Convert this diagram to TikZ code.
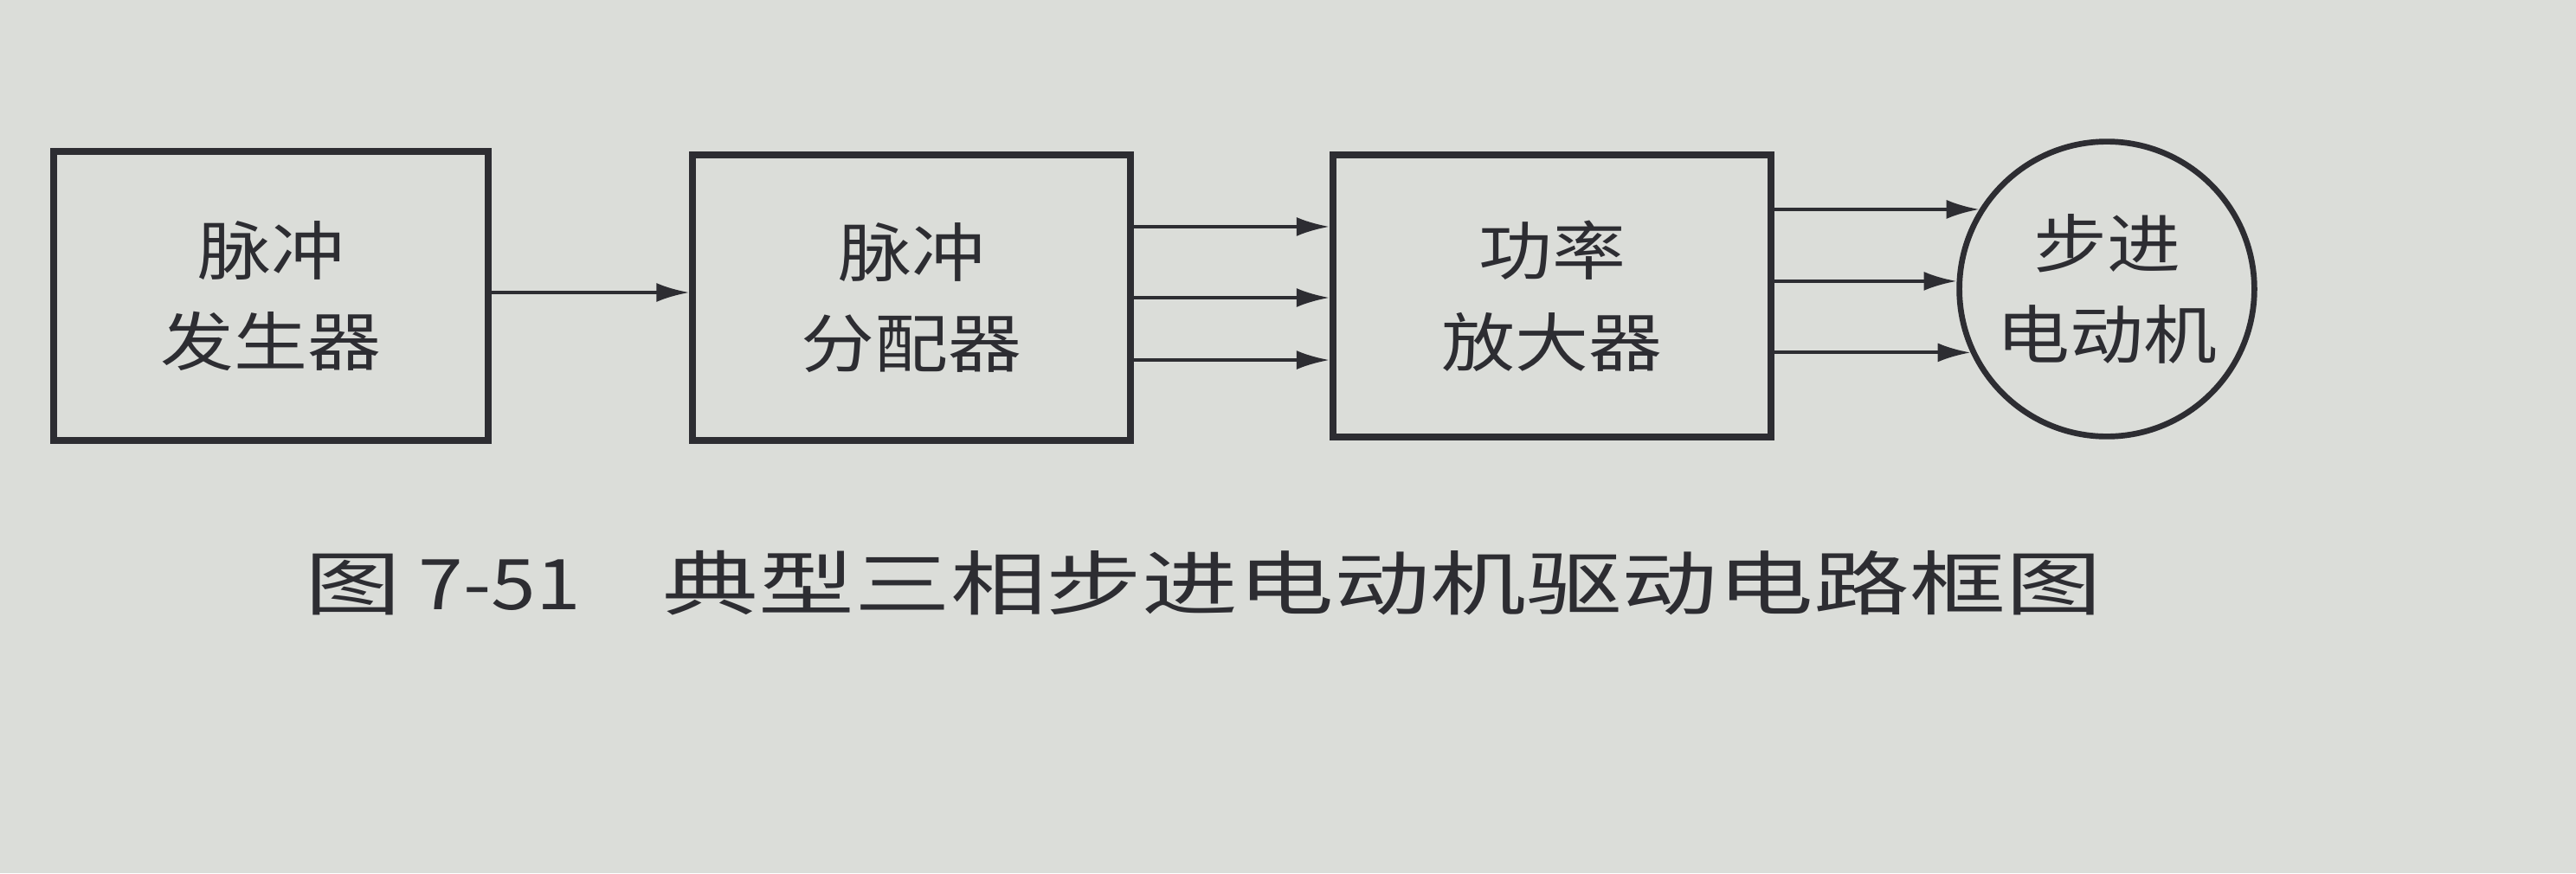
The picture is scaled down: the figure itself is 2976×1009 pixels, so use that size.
\documentclass[tikz,border=0pt]{standalone}
\usepackage{fontspec}
\usepackage{tikz}
\usetikzlibrary{arrows.meta}
\newfontfamily\cjk[FakeStretch=1.15]{Noto Sans CJK SC}
\newfontfamily\cjkcap[FakeStretch=1.37]{Noto Sans CJK SC}
\definecolor{paper}{RGB}{219,221,217}
\definecolor{ink}{RGB}{45,45,50}
\tikzset{
    blockbox/.style={draw=ink, line width=2.3pt, minimum width=#1, align=center, text=ink,
        font=\cjk\fontsize{21}{30}\selectfont},
    motorbox/.style={draw=ink, line width=1.9pt, circle, minimum size=3.26cm, align=center, text=ink,
        font=\cjk\fontsize{21}{30}\selectfont},
    arr/.style={draw=ink, line width=1.1pt, -{Latex[length=3.8mm,width=2.2mm]}}
}
\begin{document}
\begin{tikzpicture}[x=0.01cm, y=-0.01cm]
        \fill[paper] (0,0) rectangle (2976,1009);
        \useasboundingbox (0,0) rectangle (2976,1009);
        %blocks
        \node[blockbox=5.01cm, minimum height=3.34cm] (gen) at (313,342) {脉冲\\发生器};
        \node[blockbox=5.05cm, minimum height=3.29cm] (dist) at (1053,344) {脉冲\\分配器};
        \node[blockbox=5.06cm, minimum height=3.25cm] (amp) at (1793,342) {功率\\放大器};
        \node[motorbox] (motor) at (2434,334) {步进\\电动机};

        \draw[arr] ([yshift=0.04cm]gen.east) -- ([yshift=0.04cm]gen.east -| dist.west);
        \foreach \dy in {0.82, 0, -0.72} {
        \draw[arr] ([yshift=\dy cm]dist.east) -- ([yshift=\dy cm]dist.east -| amp.west);}
        \foreach \a in {148, 177.5, 205} {
        \draw[arr] (amp.east |- motor.\a) -- (motor.\a);}

        %caption
        \node[anchor=west, text=ink, font=\cjkcap\fontsize{23}{28}\selectfont, inner sep=0pt] (cap) at (352,674)
            {图\hspace{0.2cm}{\cjk 7-51}\hspace{0.95cm}典型三相步进电动机驱动电路框图};
\end{tikzpicture}
\end{document}
